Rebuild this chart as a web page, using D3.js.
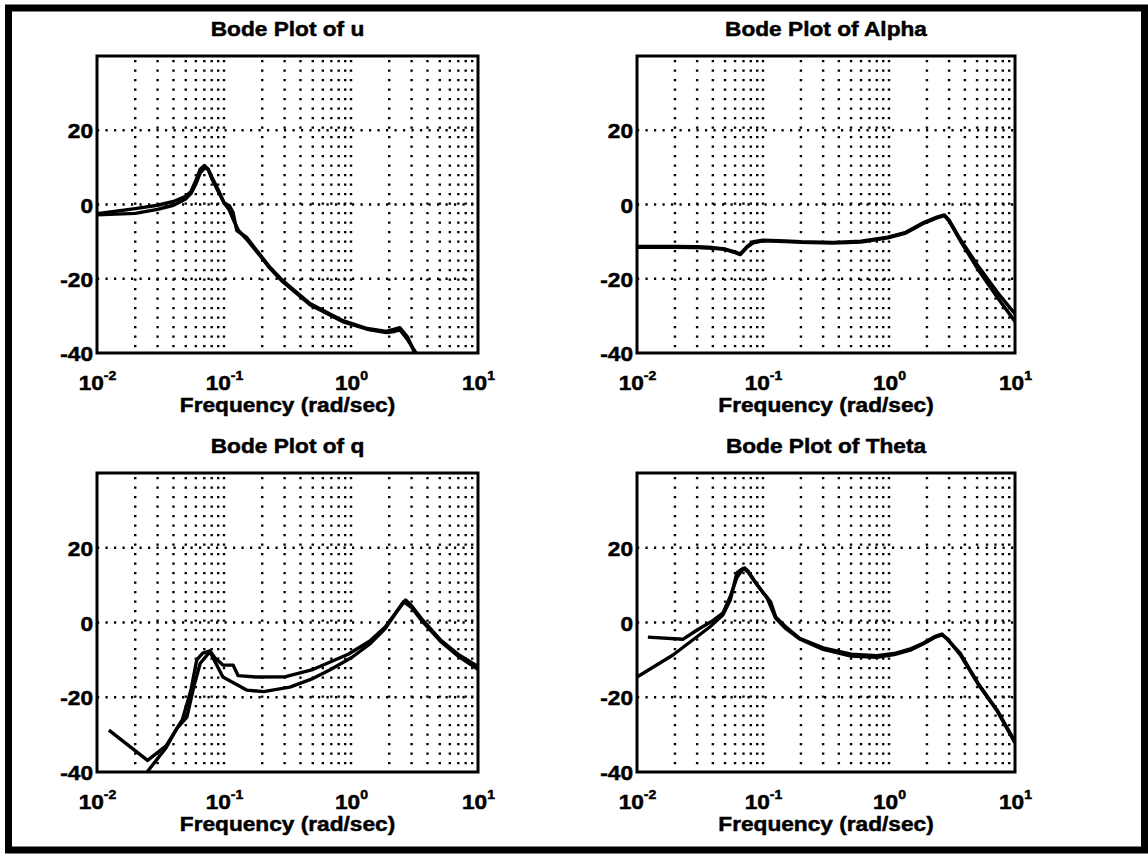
<!DOCTYPE html>
<html>
<head>
<meta charset="utf-8">
<script src="https://cdn.jsdelivr.net/npm/d3@7"></script>
<style>
  html, body { margin: 0; padding: 0; background: #fff; }
  svg { display: block; }
  text { font-family: "Liberation Sans", Arial, Helvetica, sans-serif; font-weight: bold; fill: #000; stroke: #000; stroke-width: 0.5px; }
</style>
</head>
<body>
<svg id="chart" width="1148" height="855"></svg>
<script>
// ---------- DATA ----------
const titles = ["Bode Plot of u", "Bode Plot of Alpha", "Bode Plot of q", "Bode Plot of Theta"];
const xLabel = "Frequency (rad/sec)";
const yTicks = [-40, -20, 0, 20];
const xTickExps = [-2, -1, 0, 1];

// u
const uF1  = [0.01, 0.02, 0.03, 0.04, 0.05, 0.055, 0.06, 0.065, 0.07, 0.075, 0.08, 0.09, 0.1, 0.11, 0.118, 0.126, 0.15, 0.19, 0.23, 0.29, 0.475, 0.865, 1.34, 1.9, 2.2, 2.43, 2.8, 3.17, 3.3];
const uDb1 = [-2.5, -1.1, -0.2, 0.8, 2.2, 3.5, 6.5, 9.5, 10.5, 9.5, 7.5, 4, 0.5, -0.3, -2.2, -7, -8.8, -13.3, -16.9, -20.5, -26.7, -31.3, -33.4, -34.2, -33.6, -33.2, -35.8, -40, -41];
const uF2  = [0.01, 0.02, 0.03, 0.04, 0.05, 0.055, 0.06, 0.065, 0.07, 0.075, 0.08, 0.09, 0.1, 0.11, 0.12, 0.13, 0.15, 0.19, 0.23, 0.29, 0.475, 0.865, 1.34, 1.9, 2.2, 2.43, 2.8, 3.25, 3.4];
const uDb2 = [-2.8, -2.4, -1.3, -0.2, 1.5, 3, 5.5, 8.5, 9.8, 9.5, 7, 3.5, 0.5, -1.5, -4.5, -7, -9.3, -13.6, -17.2, -20.8, -27, -31.6, -33.6, -34.5, -34.2, -33.8, -36.5, -40, -41];

// Alpha
const aF   = [0.01, 0.02, 0.03, 0.04, 0.05, 0.058, 0.066, 0.075, 0.084, 0.1, 0.15, 0.2, 0.36, 0.6, 0.98, 1.36, 1.9, 2.4, 2.75, 3.0, 3.7, 5.2, 7.3, 10];
const aDb1 = [-11.5, -11.5, -11.6, -11.8, -12.1, -12.8, -13.5, -11.5, -10.3, -9.8, -10.0, -10.2, -10.4, -10.1, -9.0, -7.7, -5.0, -3.6, -3.0, -4.5, -9.9, -18.0, -25.2, -31.5];
const aDb2 = [-11.3, -11.3, -11.4, -11.6, -12.0, -12.6, -13.3, -11.3, -10.0, -9.6, -9.8, -10.0, -10.2, -9.9, -8.8, -7.5, -4.8, -3.4, -2.8, -4.2, -9.5, -17.0, -23.8, -29.5];

// q
const qF1  = [0.0124, 0.025, 0.035, 0.047, 0.055, 0.061, 0.068, 0.0776, 0.085, 0.098, 0.118, 0.129, 0.179, 0.306, 0.49, 0.95, 1.4, 1.86, 2.3, 2.69, 3.0, 3.6, 5.05, 7.1, 10];
const qDb1 = [-28.8, -36.9, -33, -26, -18, -10, -8.2, -7.6, -9.5, -11.4, -11.4, -14.2, -14.6, -14.5, -12.7, -8.5, -5, -1.2, 3, 6.0, 4.5, 1.0, -4.6, -8.7, -11.8];
const qF2  = [0.0248, 0.035, 0.0426, 0.051, 0.058, 0.065, 0.0776, 0.085, 0.098, 0.152, 0.205, 0.33, 0.5, 0.68, 1.02, 1.4, 1.86, 2.3, 2.6, 3.0, 3.6, 5.05, 7.1, 10];
const qDb2 = [-40, -33.5, -28.3, -25.3, -17, -10.9, -7.8, -10.5, -14.6, -18.1, -18.5, -17.3, -15, -12.7, -9.3, -5.8, -1.6, 3, 5.6, 4.0, 0.5, -5.0, -9.2, -12.5];

// Theta
const tF1  = [0.0122, 0.0231, 0.03, 0.04, 0.048, 0.055, 0.062, 0.068, 0.0716, 0.076, 0.088, 0.1, 0.107, 0.115, 0.126, 0.15, 0.195, 0.3, 0.5, 0.8, 1.1, 1.5, 1.88, 2.3, 2.63, 2.9, 3.67, 5.1, 7.2, 10];
const tDb1 = [-3.9, -4.5, -2.0, 0.5, 2.5, 7, 12, 14, 14.3, 13.5, 10.5, 8, 6.8, 5.5, 1.5, -1, -4.2, -6.8, -8.5, -8.9, -8.3, -7.0, -5.5, -3.8, -3.1, -4.5, -8.2, -16.3, -23.4, -31.9];
const tF2  = [0.01, 0.0193, 0.0378, 0.048, 0.055, 0.062, 0.068, 0.0716, 0.076, 0.088, 0.1, 0.107, 0.126, 0.15, 0.195, 0.3, 0.5, 0.8, 1.1, 1.5, 1.88, 2.3, 2.63, 2.9, 3.67, 5.1, 7.2, 10];
const tDb2 = [-14.6, -8.7, -1.2, 2.0, 6, 13.3, 14.3, 14.6, 13.8, 10.5, 8, 6.8, 1.2, -1.5, -4.4, -7.2, -9.0, -9.3, -8.6, -7.3, -5.7, -4.0, -3.3, -4.3, -8.6, -16.5, -23.6, -32.2];

// ---------- LAYOUT ----------
const panels = [
  { title: titles[0], box: [97, 56, 478, 353], series: [[uF1, uDb1], [uF2, uDb2]] },
  { title: titles[1], box: [637, 56, 1015, 353], series: [[aF, aDb1], [aF, aDb2]] },
  { title: titles[2], box: [97, 473, 478, 772], series: [[qF1, qDb1], [qF2, qDb2]] },
  { title: titles[3], box: [637, 473, 1015, 772], series: [[tF1, tDb1], [tF2, tDb2]] }
];
const SX = 1.08; // horizontal stretch of the scanned lettering

const svg = d3.select("#chart");

// outer border
svg.append("rect").attr("x", 8.5).attr("y", 8).attr("width", 1136).attr("height", 842)
  .attr("fill", "none").attr("stroke", "#000").attr("stroke-width", 7);

const minorTicks = [];
for (let e = -2; e <= 0; e++) for (let m = 2; m <= 10; m++) if (!(e === 0 && m === 10)) minorTicks.push(m * Math.pow(10, e));

function label(parent, x, y, anchor, size, txt) {
  return parent.append("text").attr("transform", `translate(${x},${y}) scale(${SX},1)`)
    .attr("text-anchor", anchor).style("font-size", size + "px").text(txt);
}

panels.forEach((p, i) => {
  const [x0, y0, x1, y1] = p.box;
  const x = d3.scaleLog().domain([0.01, 10]).range([x0, x1]);
  const y = d3.scaleLinear().domain([-40, 40]).range([y1, y0]);
  const g = svg.append("g");

  const clipId = "clip" + i;
  g.append("clipPath").attr("id", clipId).append("rect")
    .attr("x", x0).attr("y", y0).attr("width", x1 - x0).attr("height", y1 - y0);

  // grid
  const grid = g.append("g").attr("stroke", "#000").attr("stroke-width", 2.4).attr("fill", "none");
  grid.selectAll("line.v").data(minorTicks).join("line")
    .attr("x1", d => x(d)).attr("x2", d => x(d)).attr("y1", y0 + 4).attr("y2", y1)
    .attr("stroke-dasharray", "2.2 7.3");
  grid.selectAll("line.h").data([-20, 0, 20]).join("line")
    .attr("y1", d => y(d)).attr("y2", d => y(d)).attr("x1", x0).attr("x2", x1)
    .attr("stroke-dasharray", "2.2 6.3");

  // curves
  const line = d3.line().x(d => x(d[0])).y(d => y(d[1]));
  const lg = g.append("g").attr("clip-path", `url(#${clipId})`);
  p.series.forEach(([fs, dbs]) => {
    lg.append("path").datum(fs.map((f, k) => [f, dbs[k]]))
      .attr("d", line).attr("fill", "none").attr("stroke", "#000")
      .attr("stroke-width", 3.4).attr("stroke-linejoin", "round");
  });

  // box
  g.append("rect").attr("x", x0).attr("y", y0).attr("width", x1 - x0).attr("height", y1 - y0)
    .attr("fill", "none").attr("stroke", "#000").attr("stroke-width", 3);

  // y axis labels
  const ya = g.append("g").attr("transform", `translate(${x0},0)`)
    .call(d3.axisLeft(y).tickValues(yTicks).tickSize(0).tickPadding(0).tickFormat(d => String(d)));
  ya.select(".domain").remove();
  ya.selectAll(".tick text").each(function(d) {
    const t = d3.select(this);
    t.attr("x", null).attr("dy", null).attr("transform", `translate(-4,7.5) scale(${SX},1)`)
      .attr("text-anchor", "end").style("font-size", "21px").style("font-family", null);
  });

  // x axis labels (10 with superscript exponent)
  const xa = g.append("g").attr("transform", `translate(0,${y1})`)
    .call(d3.axisBottom(x).tickValues(xTickExps.map(e => Math.pow(10, e))).tickSize(0).tickFormat(""));
  xa.select(".domain").remove();
  xa.selectAll(".tick").each(function(d, k) {
    const t = d3.select(this).select("text").text(null)
      .attr("y", null).attr("dy", null)
      .attr("transform", `translate(0,37) scale(${SX},1)`)
      .attr("text-anchor", "middle").style("font-size", "21px").style("font-family", null);
    t.append("tspan").text("10");
    t.append("tspan").attr("dy", -10).style("font-size", "13px").text(String(xTickExps[k]));
  });

  // titles and x label
  label(g, (x0 + x1) / 2, y0 - 20, "middle", 21, p.title);
  label(g, (x0 + x1) / 2, y1 + 59, "middle", 21, xLabel);
});
</script>
</body>
</html>
